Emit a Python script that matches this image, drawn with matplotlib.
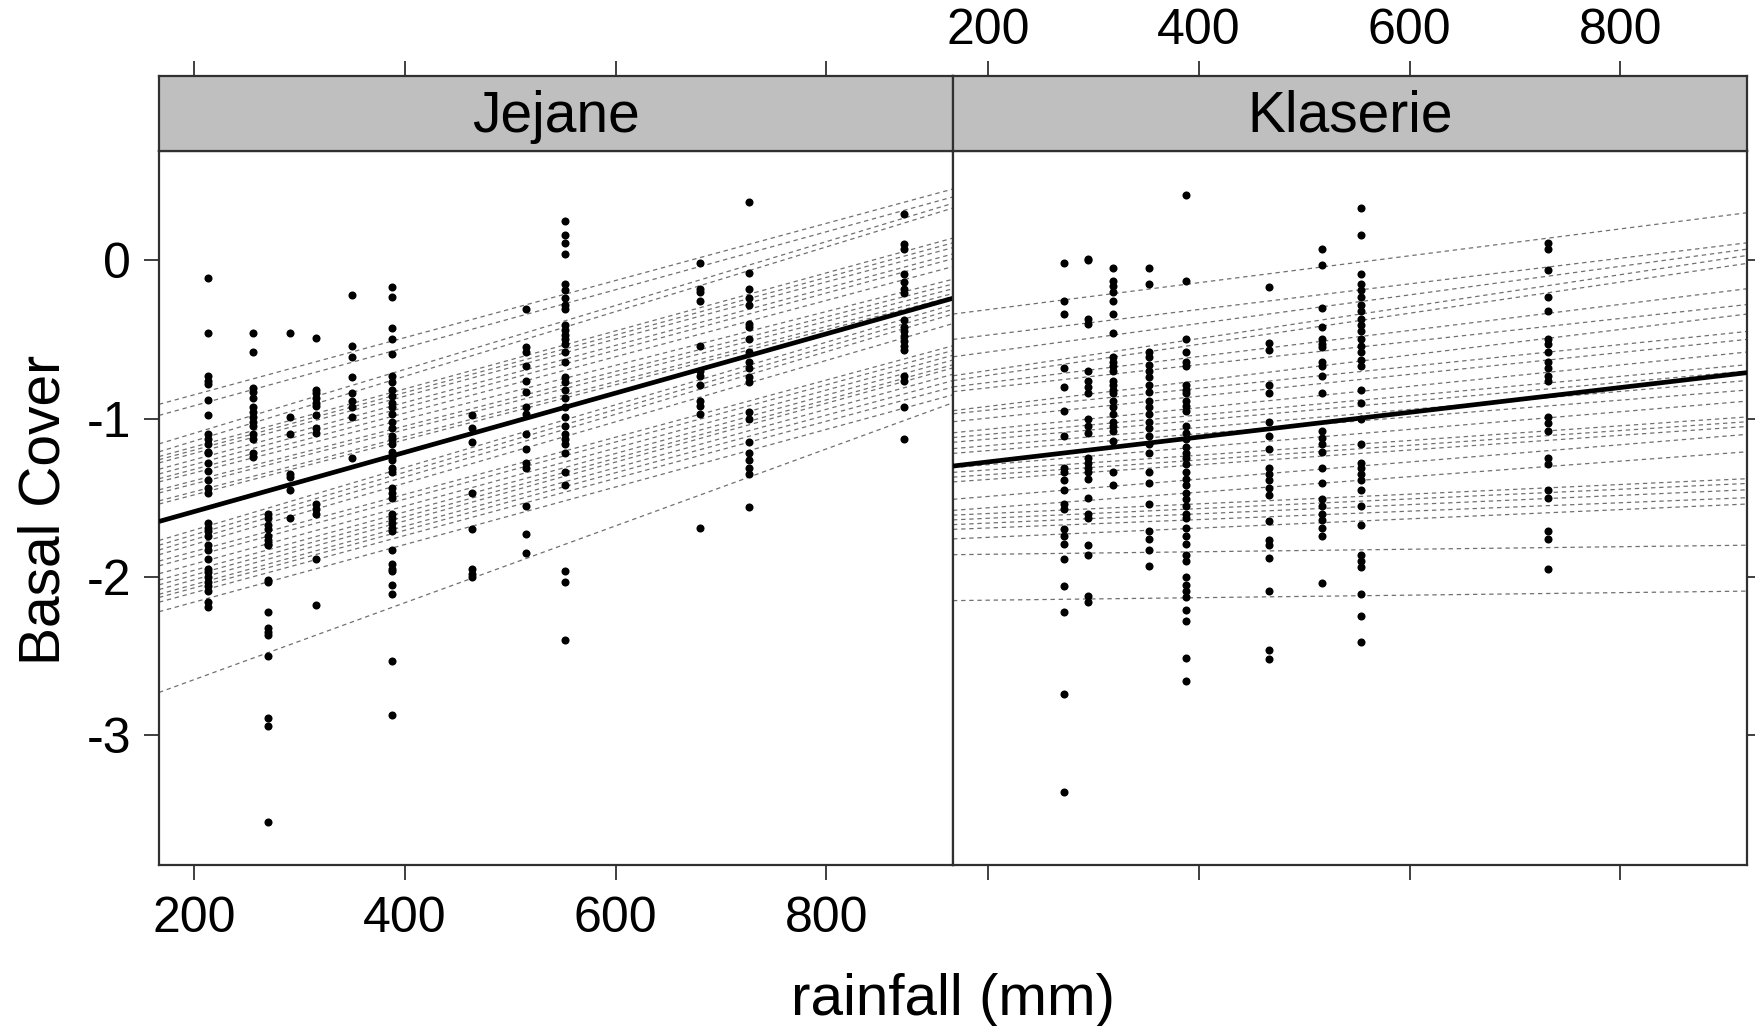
import matplotlib
matplotlib.use("Agg")
import matplotlib.pyplot as plt

plt.rcParams['font.family'] = ['Liberation Sans', 'DejaVu Sans']

# rainfall range shown on both panels
x_lo, x_hi = 167, 920

# Jejane: site rainfall and basal cover observations per site
jejane_rain = [213, 256, 270, 291, 316, 350, 388, 464, 515, 552, 680, 727, 874]
jejane_cover = [
    [-0.11, -0.46, -0.73, -0.76, -0.78, -0.88, -0.98, -1.10, -1.13, -1.16, -1.21, -1.22, -1.28, -1.33,
     -1.39, -1.44, -1.47, -1.66, -1.69, -1.71, -1.74, -1.80, -1.83, -1.89, -1.95, -1.97, -2.00, -2.03,
     -2.06, -2.09, -2.16, -2.19],
    [-0.46, -0.58, -0.81, -0.83, -0.87, -0.93, -0.96, -0.99, -1.02, -1.05, -1.10, -1.13, -1.22, -1.24],
    [-1.60, -1.63, -1.67, -1.70, -1.74, -1.77, -1.79, -1.80, -2.02, -2.03, -2.22, -2.32, -2.35, -2.37,
     -2.50, -2.89, -2.94, -3.55],
    [-0.46, -0.99, -1.10, -1.35, -1.37, -1.45, -1.63],
    [-0.49, -0.82, -0.84, -0.87, -0.90, -0.92, -0.98, -1.06, -1.09, -1.54, -1.57, -1.60, -1.89, -2.18],
    [-0.22, -0.54, -0.61, -0.74, -0.84, -0.89, -0.93, -0.99, -1.25],
    [-0.17, -0.23, -0.43, -0.50, -0.59, -0.73, -0.77, -0.82, -0.86, -0.90, -0.93, -0.97, -1.02, -1.06,
     -1.11, -1.13, -1.16, -1.21, -1.24, -1.26, -1.31, -1.34, -1.44, -1.47, -1.50, -1.60, -1.63, -1.66,
     -1.69, -1.71, -1.83, -1.92, -1.95, -1.96, -2.05, -2.11, -2.53, -2.87],
    [-0.98, -1.06, -1.15, -1.47, -1.70, -1.95, -1.98, -2.00],
    [-0.31, -0.55, -0.58, -0.67, -0.76, -0.83, -0.93, -0.97, -1.10, -1.19, -1.28, -1.31, -1.55, -1.73, -1.85],
    [0.25, 0.16, 0.11, 0.04, -0.15, -0.19, -0.24, -0.28, -0.31, -0.41, -0.44, -0.47, -0.50, -0.53,
     -0.58, -0.64, -0.74, -0.77, -0.82, -0.87, -0.93, -0.99, -1.05, -1.10, -1.13, -1.16, -1.22, -1.34,
     -1.42, -1.96, -2.03, -2.40],
    [-0.02, -0.18, -0.20, -0.26, -0.54, -0.70, -0.73, -0.79, -0.89, -0.92, -0.97, -1.69],
    [0.37, -0.08, -0.18, -0.24, -0.28, -0.40, -0.42, -0.50, -0.58, -0.64, -0.68, -0.74, -0.77, -0.96,
     -1.00, -1.15, -1.22, -1.26, -1.31, -1.35, -1.56],
    [0.29, 0.10, 0.07, -0.09, -0.14, -0.18, -0.21, -0.38, -0.42, -0.45, -0.48, -0.51, -0.54, -0.57,
     -0.73, -0.76, -0.93, -1.13],
]
# plot-level fitted lines (value at x_lo, value at x_hi)
jejane_fit_lo = [-0.91, -0.98, -1.16, -1.21, -1.24, -1.26, -1.28, -1.32, -1.35, -1.38, -1.40, -1.45, -1.47,
                 -1.52, -1.54, -1.77, -1.80, -1.83, -1.86, -1.90, -1.93, -1.98, -2.02, -2.05, -2.08, -2.11,
                 -2.13, -2.16, -2.22, -2.73]
jejane_fit_hi = [0.45, 0.40, 0.36, 0.33, 0.14, 0.11, 0.08, 0.04, 0.01, -0.04, -0.12, -0.15, -0.18, -0.21,
                 -0.23, -0.28, -0.31, -0.34, -0.40, -0.54, -0.57, -0.60, -0.63, -0.66, -0.68, -0.72,
                 -0.76, -0.80, -0.85, -0.90]
jejane_mean = [-1.65, -0.24]

# Klaserie
klaserie_rain = [272, 295, 319, 353, 388, 467, 517, 554, 731]
klaserie_cover = [
    [-0.02, -0.26, -0.34, -0.68, -0.80, -0.95, -1.11, -1.31, -1.34, -1.39, -1.45, -1.54, -1.57, -1.70,
     -1.74, -1.79, -1.89, -2.06, -2.22, -2.74, -3.36],
    [0.01, 0.00, -0.37, -0.40, -0.70, -0.76, -0.80, -0.84, -1.00, -1.05, -1.09, -1.25, -1.28, -1.31,
     -1.34, -1.38, -1.50, -1.60, -1.63, -1.80, -1.86, -2.12, -2.16],
    [-0.05, -0.13, -0.16, -0.20, -0.26, -0.34, -0.46, -0.61, -0.64, -0.67, -0.70, -0.76, -0.79, -0.82,
     -0.84, -0.89, -0.93, -0.97, -1.02, -1.05, -1.08, -1.14, -1.34, -1.42],
    [-0.05, -0.15, -0.58, -0.61, -0.66, -0.70, -0.74, -0.79, -0.83, -0.89, -0.93, -0.97, -1.02, -1.06,
     -1.11, -1.16, -1.22, -1.34, -1.41, -1.54, -1.71, -1.76, -1.83, -1.93],
    [0.41, -0.13, -0.50, -0.58, -0.64, -0.67, -0.79, -0.82, -0.84, -0.89, -0.92, -0.95, -1.05, -1.09,
     -1.13, -1.18, -1.22, -1.25, -1.29, -1.34, -1.38, -1.42, -1.47, -1.51, -1.55, -1.60, -1.63, -1.69,
     -1.74, -1.79, -1.86, -1.90, -2.00, -2.05, -2.09, -2.13, -2.21, -2.28, -2.51, -2.66],
    [-0.17, -0.52, -0.57, -0.79, -0.84, -1.02, -1.11, -1.19, -1.31, -1.35, -1.39, -1.44, -1.48, -1.65,
     -1.77, -1.80, -1.88, -2.09, -2.46, -2.52],
    [0.07, -0.03, -0.30, -0.42, -0.50, -0.53, -0.55, -0.64, -0.67, -0.73, -0.84, -1.08, -1.12, -1.16,
     -1.21, -1.31, -1.41, -1.51, -1.55, -1.60, -1.64, -1.69, -1.74, -2.04],
    [0.33, 0.16, -0.09, -0.15, -0.19, -0.23, -0.28, -0.32, -0.37, -0.41, -0.45, -0.50, -0.54, -0.58,
     -0.63, -0.67, -0.82, -0.90, -1.00, -1.16, -1.28, -1.31, -1.35, -1.39, -1.45, -1.55, -1.67, -1.86,
     -1.90, -1.94, -2.11, -2.25, -2.41],
    [0.11, 0.07, -0.06, -0.23, -0.32, -0.50, -0.53, -0.58, -0.64, -0.68, -0.73, -0.76, -0.99, -1.03,
     -1.08, -1.25, -1.29, -1.45, -1.50, -1.71, -1.76, -1.95],
]
klaserie_fit_lo = [-0.34, -0.50, -0.61, -0.73, -0.76, -0.80, -0.83, -0.95, -0.97, -1.02, -1.09, -1.12,
                   -1.15, -1.19, -1.22, -1.31, -1.34, -1.37, -1.40, -1.51, -1.58, -1.61, -1.64, -1.67,
                   -1.70, -1.76, -1.86, -2.15]
klaserie_fit_hi = [0.30, 0.11, 0.07, 0.03, -0.02, -0.18, -0.28, -0.34, -0.45, -0.50, -0.58, -0.66, -0.70,
                   -0.76, -0.82, -0.89, -0.99, -1.02, -1.05, -1.10, -1.21, -1.38, -1.41, -1.45, -1.50,
                   -1.54, -1.80, -2.09]
klaserie_mean = [-1.30, -0.71]

sites = ["Jejane", "Klaserie"]
xticks = [200, 400, 600, 800]
yticks = [0, -1, -2, -3]
yticklabels = ["0", "-1", "-2", "-3"]

W, H = 1756, 1026
fig = plt.figure(figsize=(W / 100, H / 100), dpi=100)

frame_col = "#303030"
left, mid, right = 159 / W, 953 / W, 1747 / W
bot, ptop, stop = 1 - 865 / H, 1 - 151 / H, 1 - 76 / H
tick_kw = dict(length=11, width=1.3, color=frame_col, labelsize=36, pad=11)

data = [
    (jejane_rain, jejane_cover, jejane_fit_lo, jejane_fit_hi, jejane_mean),
    (klaserie_rain, klaserie_cover, klaserie_fit_lo, klaserie_fit_hi, klaserie_mean),
]

for i, (rain, cover, flo, fhi, mean) in enumerate(data):
    x0 = left if i == 0 else mid
    ax = fig.add_axes([x0, bot, mid - left, ptop - bot])
    sax = fig.add_axes([x0, ptop, mid - left, stop - ptop], sharex=ax)

    for lo, hi in zip(flo, fhi):
        ax.plot([x_lo, x_hi], [lo, hi], color="#707070", lw=0.9, ls=(0, (3.5, 3)), zorder=2)
    for r, ys in zip(rain, cover):
        ax.plot([r] * len(ys), ys, "o", color="black", ms=5.8, mew=0, zorder=3)
    ax.plot([x_lo, x_hi], mean, color="black", lw=3.4, zorder=4, solid_capstyle="butt")

    ax.set_xlim(x_lo, x_hi)
    ax.set_ylim(-3.82, 0.69)
    ax.set_xticks(xticks)
    ax.set_yticks(yticks)
    ax.set_yticklabels(yticklabels)
    for sp in ax.spines.values():
        sp.set_color(frame_col)
        sp.set_linewidth(1.6)
    ax.tick_params(**tick_kw)
    if i == 0:
        ax.tick_params(axis="x", bottom=True, labelbottom=True, top=False)
        ax.tick_params(axis="y", left=True, labelleft=True, right=False, pad=9)
    else:
        ax.tick_params(axis="x", bottom=True, labelbottom=False, top=False)
        ax.tick_params(axis="y", left=False, labelleft=False, right=True, labelright=False)

    sax.set_facecolor("#bfbfbf")
    sax.set_yticks([])
    for sp in sax.spines.values():
        sp.set_color(frame_col)
        sp.set_linewidth(1.6)
    sax.tick_params(**tick_kw)
    sax.tick_params(axis="x", bottom=False, labelbottom=False, top=True, labeltop=(i == 1), pad=5)
    sax.text(0.5, 0.46, sites[i], transform=sax.transAxes, ha="center", va="center", fontsize=41)

fig.text((left + right) / 2, 1 - 1000 / H, "rainfall (mm)", ha="center", va="center", fontsize=42)
fig.text(45 / W, 1 - 510 / H, "Basal Cover", ha="center", va="center", rotation=90, fontsize=41)

fig.savefig("out.png", dpi=100, facecolor="white")
